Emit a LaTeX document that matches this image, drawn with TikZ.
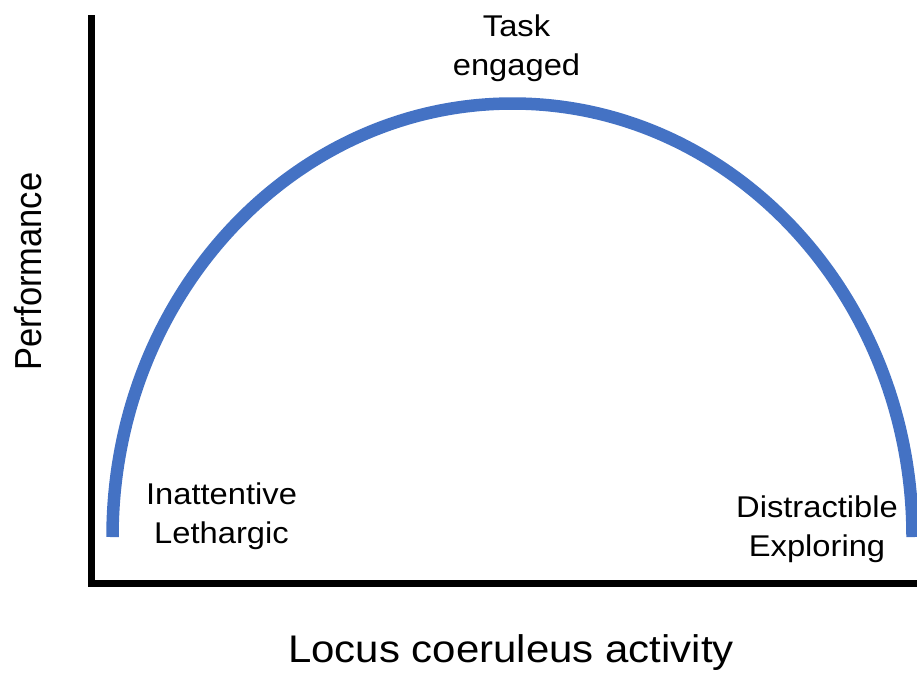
\documentclass[tikz,border=0pt]{standalone}
\usepackage{fontspec}
\setmainfont{Liberation Sans}
\definecolor{curveblue}{HTML}{4472C4}

\begin{document}
\begin{tikzpicture}[x=1pt, y=-1pt,
    state label/.style={font=\fontsize{30}{39}\selectfont, align=center, xscale=1.09, transform shape},
    axis title/.style={font=\fontsize{38.5}{46}\selectfont, xscale=1.09, transform shape}]
  	\useasboundingbox (0,0) rectangle (917,673);

  	% axes
  	\draw[line width=6.5pt, line join=miter] (91.5,15) -- (91.5,583.5) -- (917,583.5);

  	% inverted-U curve
  	\draw[curveblue, line width=12.5pt] (112.5,537)
    		arc[start angle=180, end angle=360, x radius=400, y radius=433.5];

  	% base is the baseline of the last line
  	\node[state label, anchor=base] (engaged) at (516.5,75) {Task\\engaged};
  	\node[state label, anchor=base] (lethargic) at (221.5,543.3) {Inattentive\\Lethargic};
  	\node[state label, anchor=base] (exploring) at (817,556.7) {Distractible\\Exploring};

  	\node[axis title, anchor=base] (activity) at (511,662.7) {Locus coeruleus activity};
  	\node[axis title, font=\fontsize{34.5}{40}\selectfont, rotate=90, anchor=base]
    		(performance) at (41.7,271.5) {Performance};
\end{tikzpicture}
\end{document}
